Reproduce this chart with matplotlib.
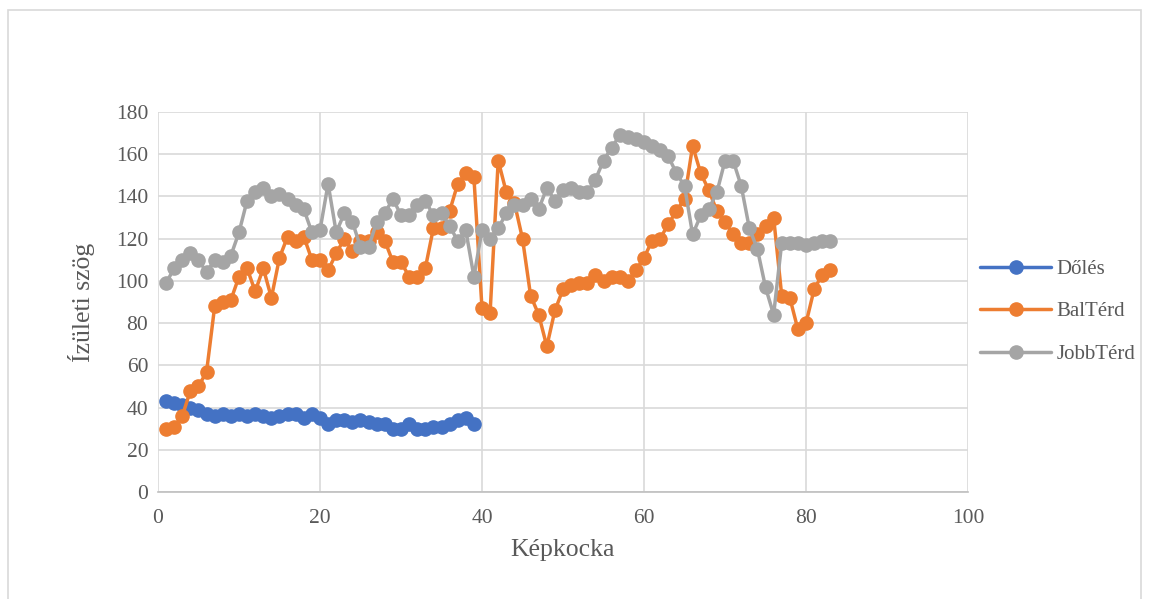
import matplotlib.pyplot as plt
from matplotlib.patches import Rectangle

plt.rcParams['font.family'] = ['Liberation Serif', 'DejaVu Serif']

# Joint angles per frame
doles = [43, 42, 41, 40, 39, 37, 36, 37, 36, 37, 36, 37, 36, 35, 36, 37, 37, 35, 37, 35,
         32, 34, 34, 33, 34, 33, 32, 32, 30, 30, 32, 30, 30, 31, 31, 32, 34, 35, 32]
bal_terd = [30, 31, 36, 48, 50, 57, 88, 90, 91, 102, 106, 95, 106, 92, 111, 121, 119, 121, 110, 110,
            105, 113, 120, 114, 119, 119, 123, 119, 109, 109, 102, 102, 106, 125, 125, 133, 146, 151, 149, 87,
            85, 157, 142, 137, 120, 93, 84, 69, 86, 96, 98, 99, 99, 103, 100, 102, 102, 100, 105, 111,
            119, 120, 127, 133, 139, 164, 151, 143, 133, 128, 122, 118, 118, 122, 126, 130, 93, 92, 77, 80,
            96, 103, 105]
jobb_terd = [99, 106, 110, 113, 110, 104, 110, 109, 112, 123, 138, 142, 144, 140, 141, 139, 136, 134, 123, 124,
             146, 123, 132, 128, 116, 116, 128, 132, 139, 131, 131, 136, 138, 131, 132, 126, 119, 124, 102, 124,
             120, 125, 132, 136, 136, 139, 134, 144, 138, 143, 144, 142, 142, 148, 157, 163, 169, 168, 167, 166,
             164, 162, 159, 151, 145, 122, 131, 134, 142, 157, 157, 145, 125, 115, 97, 84, 118, 118, 118, 117,
             118, 119, 119]

series = [
    ("Dőlés", doles, "#4472C4"),
    ("BalTérd", bal_terd, "#ED7D31"),
    ("JobbTérd", jobb_terd, "#A5A5A5"),
]

fig = plt.figure(figsize=(11.49, 5.99), dpi=100)
ax = fig.add_axes([0.1375, 0.1786, 0.705, 0.6344])

for name, vals, c in series:
    xs = range(1, len(vals) + 1)
    ax.plot(xs, vals, color=c, lw=2.5, marker="o", ms=9.5, mec=c, mfc=c,
            label=name, solid_capstyle="round", solid_joinstyle="round")

ax.set_xlim(0, 100)
ax.set_ylim(0, 180)
ax.set_xticks(range(0, 101, 20))
ax.set_yticks(range(0, 181, 20))
ax.grid(color="#D9D9D9", lw=1.2)
ax.set_axisbelow(True)
for s in ["top", "right", "left"]:
    ax.spines[s].set_visible(False)
ax.spines["bottom"].set_color("#BFBFBF")
ax.spines["bottom"].set_linewidth(1.2)
ax.tick_params(length=0, labelsize=15.5, colors="#595959")
ax.tick_params(axis="x", pad=12)
ax.tick_params(axis="y", pad=7)

ax.set_xlabel("Képkocka", fontsize=18.5, color="#595959", labelpad=8)
ax.set_ylabel("Ízületi szög", fontsize=18.5, color="#595959", labelpad=15)

leg = ax.legend(loc="center left", bbox_to_anchor=(0.992, 0.475), frameon=False,
                fontsize=15, handlelength=3.4, labelspacing=1.1, handletextpad=0.25)
for t in leg.get_texts():
    t.set_color("#595959")

fig.patches.append(Rectangle((0.007, -0.01), 0.986, 0.993, transform=fig.transFigure,
                             fill=False, ec="#D9D9D9", lw=1.2))

fig.savefig("out.png", dpi=100)
